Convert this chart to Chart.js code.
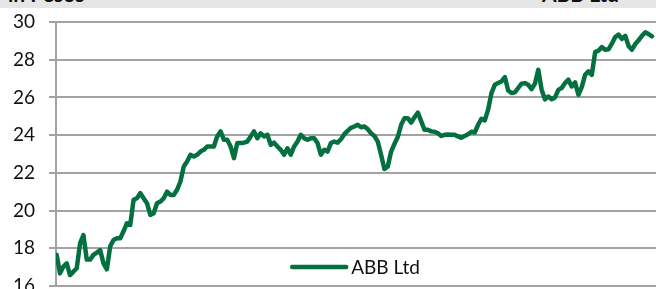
<!DOCTYPE html>
<html>
<head>
<meta charset="utf-8">
<script src="https://cdn.jsdelivr.net/npm/chart.js@4/dist/chart.umd.min.js"></script>
<style>
  html, body { margin: 0; padding: 0; background: #ffffff; }
  #wrap { position: relative; width: 656px; height: 289px; overflow: hidden; }
  #band { position: absolute; left: 0; top: 0; width: 656px; height: 8px; background: #e6e6e6; overflow: hidden; z-index: 2; }
  #band span { position: absolute; top: -16px; font: bold 21px Lato, sans-serif; line-height: 20px; color: #111; white-space: nowrap; }
  #lt { left: 8px; }
  #rt { right: 37px; }
  canvas { position: absolute; left: 0; top: 0; }
</style>
</head>
<body>
<div id="wrap">
  <div id="band"><span id="lt">in Pesos</span><span id="rt">ABB Ltd</span></div>
  <canvas id="c" width="656" height="289"></canvas>
</div>
<script>
// ---- data ----
const seriesName = "ABB Ltd";
const headerLeft = "in Pesos";
const yTicks = [16, 18, 20, 22, 24, 26, 28, 30];
const prices = [
  17.65, 16.67, 17.03, 17.2, 16.58, 16.76, 16.94, 18.27, 18.7, 17.4,
  17.4, 17.65, 17.77, 17.9, 17.2, 16.88, 18.1, 18.44, 18.53, 18.53,
  18.9, 19.33, 19.24, 20.57, 20.65, 20.92, 20.65, 20.39, 19.77, 19.86,
  20.39, 20.48, 20.65, 21.0, 20.83, 20.83, 21.1, 21.54, 22.34, 22.6,
  22.96, 22.87, 22.96, 23.13, 23.22, 23.4, 23.4, 23.4, 23.93, 24.2,
  23.75, 23.75, 23.4, 22.78, 23.58, 23.58, 23.6, 23.66, 23.93, 24.2,
  23.84, 24.1, 23.93, 24.02, 23.49, 23.6, 23.4, 23.22, 22.96, 23.3,
  22.96, 23.4, 23.66, 24.02, 23.84, 23.75, 23.84, 23.84, 23.58, 22.96,
  23.22, 23.13, 23.58,
  23.66, 23.6, 23.78, 24.05, 24.23, 24.39, 24.46, 24.55, 24.42, 24.46,
  24.32, 24.1, 23.96, 23.66, 22.96, 22.2, 22.34, 23.13, 23.54, 23.9,
  24.55, 24.9, 24.9, 24.67, 24.95, 25.2, 24.73, 24.28, 24.28, 24.2,
  24.18, 24.1, 23.96, 24.02, 24.03, 24.02, 24.02, 23.93, 23.86, 23.96,
  24.05, 24.18, 24.14, 24.55, 24.87, 24.78, 25.35, 26.23, 26.67, 26.76,
  26.85, 27.08, 26.37, 26.23, 26.27, 26.5, 26.73, 26.76, 26.67, 26.44,
  26.73, 27.47, 26.41, 25.9, 26.05, 25.9, 26.0, 26.4, 26.5, 26.76,
  26.94, 26.58, 26.8, 26.14, 26.55, 27.2, 27.38, 27.2, 28.4, 28.48,
  28.67, 28.53, 28.55, 28.85, 29.2, 29.33, 29.1, 29.27, 28.73, 28.53,
  28.83, 29.03, 29.27, 29.45, 29.36, 29.24
];
const days = prices.map((_, i) => i);

// ---- chart ----
const green = "#05703f";
const gridGray = "#a3a3a3";
const fontFam = "Lato, 'Open Sans', sans-serif";

const inPlotLegend = {
  id: "inPlotLegend",
  afterDraw(chart) {
    const { ctx, chartArea } = chart;
    const ds = chart.data.datasets[0];
    ctx.save();
    ctx.font = "19px " + fontFam;
    const label = ds.label;
    const tw = ctx.measureText(label).width;
    const lineW = 54, gap = 5;
    const total = lineW + gap + tw;
    const cx = (chartArea.left + chartArea.right) / 2;
    const x0 = cx - total / 2;
    const y = chartArea.bottom - 19;
    ctx.strokeStyle = ds.borderColor;
    ctx.lineWidth = 4.5;
    ctx.lineCap = "round";
    ctx.beginPath();
    ctx.moveTo(x0, y);
    ctx.lineTo(x0 + lineW, y);
    ctx.stroke();
    ctx.fillStyle = "#111";
    ctx.textBaseline = "middle";
    ctx.textAlign = "left";
    ctx.fillText(label, x0 + lineW + gap, y + 1);
    ctx.restore();
  }
};

new Chart(document.getElementById("c"), {
  type: "line",
  data: {
    datasets: [{
      label: seriesName,
      data: prices.map((v, i) => ({ x: days[i], y: v })),
      borderColor: green,
      borderWidth: 4.5,
      pointRadius: 0,
      tension: 0,
      fill: false,
      borderJoinStyle: "round",
      borderCapStyle: "round"
    }]
  },
  options: {
    responsive: false,
    animation: false,
    layout: { padding: { top: 22, right: 0, bottom: 3, left: 0 } },
    plugins: { legend: { display: false }, tooltip: { enabled: false } },
    scales: {
      x: {
        type: "linear",
        display: false,
        min: -0.2,
        max: days[days.length - 1] + 1.2
      },
      y: {
        min: yTicks[0],
        max: yTicks[yTicks.length - 1],
        afterFit(scale) {
          scale.width = 56;
          scale.paddingTop = 0;
          scale.paddingBottom = 0;
        },
        afterBuildTicks(scale) { scale.ticks = yTicks.map(v => ({ value: v })); },
        grid: { color: gridGray, lineWidth: 2, tickLength: 7, drawTicks: true },
        border: { display: true, color: gridGray, width: 2 },
        ticks: {
          color: "#111",
          padding: 14,
          font: { family: fontFam, size: 19 },
          callback: v => String(v)
        }
      }
    }
  },
  plugins: [inPlotLegend]
});
</script>
</body>
</html>
